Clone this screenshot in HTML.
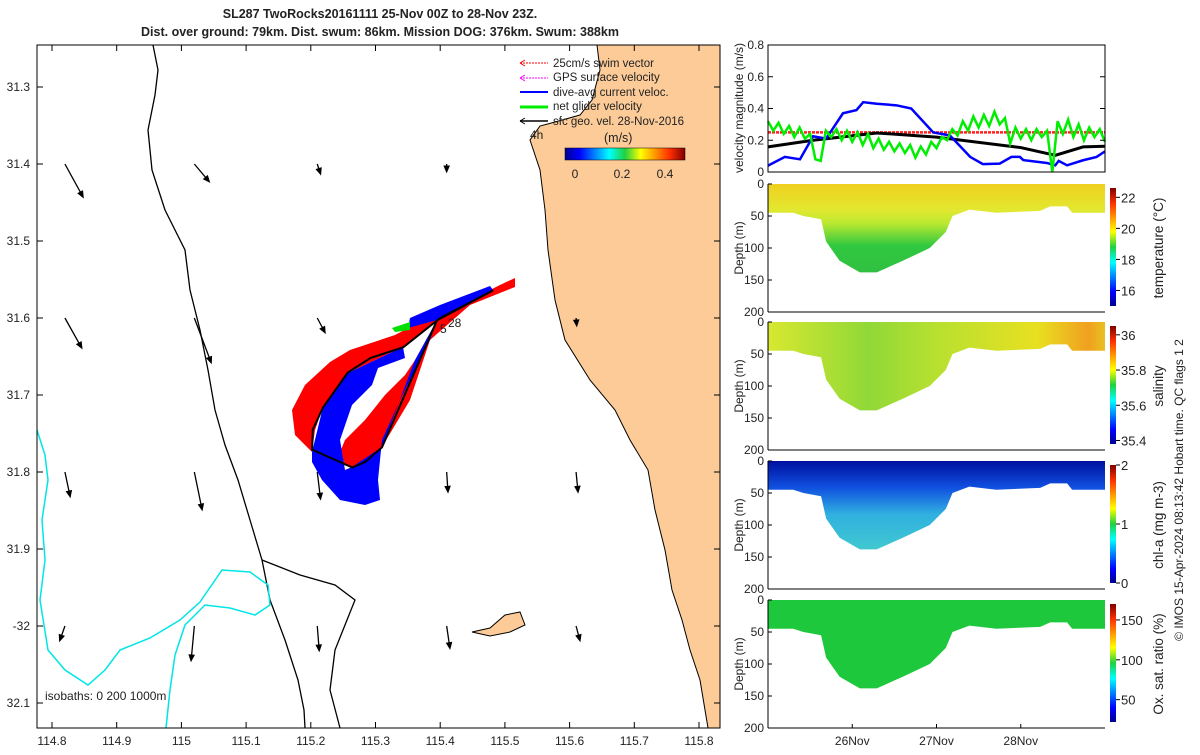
<!DOCTYPE html>
<html><head><meta charset="utf-8">
<style>
body{margin:0;background:#fff;}
svg text{font-family:"Liberation Sans",sans-serif;fill:#222;}
</style></head>
<body>
<svg id="s" width="1200" height="750" viewBox="0 0 1200 750" xmlns="http://www.w3.org/2000/svg">
<defs>
<linearGradient id="jet" x1="0" y1="1" x2="0" y2="0">
<stop offset="0" stop-color="#00008f"/><stop offset="0.12" stop-color="#0000ff"/><stop offset="0.37" stop-color="#00ffff"/><stop offset="0.5" stop-color="#20d040"/><stop offset="0.63" stop-color="#ffff00"/><stop offset="0.87" stop-color="#ff3000"/><stop offset="1" stop-color="#800000"/></linearGradient>
<linearGradient id="jeth" x1="0" y1="0" x2="1" y2="0">
<stop offset="0" stop-color="#00008f"/><stop offset="0.12" stop-color="#0000ff"/><stop offset="0.37" stop-color="#00ffff"/><stop offset="0.5" stop-color="#20d040"/><stop offset="0.63" stop-color="#ffff00"/><stop offset="0.87" stop-color="#ff3000"/><stop offset="1" stop-color="#800000"/></linearGradient>
<linearGradient id="gT" x1="0" y1="0" x2="0" y2="1"><stop offset="0" stop-color="#f0d020"/><stop offset="0.3" stop-color="#e2e830"/><stop offset="0.45" stop-color="#b8e830"/><stop offset="0.7" stop-color="#30c840"/><stop offset="1" stop-color="#30c040"/></linearGradient>
<linearGradient id="gS" x1="0" y1="0" x2="1" y2="0"><stop offset="0" stop-color="#d8e830"/><stop offset="0.3" stop-color="#90d838"/><stop offset="0.5" stop-color="#b8e030"/><stop offset="0.8" stop-color="#e8e020"/><stop offset="0.95" stop-color="#f0a020"/><stop offset="1" stop-color="#e8c020"/></linearGradient>
<linearGradient id="gC" x1="0" y1="0" x2="0" y2="1"><stop offset="0" stop-color="#0010a0"/><stop offset="0.3" stop-color="#1050e0"/><stop offset="0.6" stop-color="#30b0e0"/><stop offset="1" stop-color="#40c8d0"/></linearGradient>
</defs>

<text x="380" y="18" text-anchor="middle" font-size="12.5" font-weight="bold">SL287 TwoRocks20161111 25-Nov 00Z to 28-Nov 23Z.</text>
<text x="380" y="36" text-anchor="middle" font-size="12.5" font-weight="bold">Dist. over ground: 79km. Dist. swum: 86km. Mission DOG: 376km. Swum: 388km</text>

<g id="map">
<path fill="#fccb98" d="M597,45 L600,70 L592,100 L580,115 L555,122 L540,126 L530,140 L540,170 L545,210 L548,250 L555,300 L565,340 L590,380 L615,410 L630,440 L648,470 L655,510 L665,550 L672,590 L682,620 L690,650 L700,680 L705,710 L708,728 L720,728 L720,45 Z" stroke="#000" stroke-width="1"/>
<path fill="#fccb98" stroke="#000" stroke-width="1" d="M472,632 L490,628 L505,615 L520,612 L525,625 L510,632 L490,636 Z"/>
<polyline fill="none" stroke="#000" stroke-width="1.3" points="153,45 158,70 155,95 148,130 152,170 165,210 185,250 190,290 200,330 208,370 215,410 225,445 238,480 250,520 262,560 270,600 285,640 298,680 304,710 305,728"/>
<polyline fill="none" stroke="#000" stroke-width="1.3" points="262,560 300,575 335,585 355,600 345,625 335,650 330,690 340,728"/>
<polyline fill="none" stroke="#00e5e5" stroke-width="1.5" points="37,430 45,455 48,480 42,520 45,560 40,600 48,650 65,670 88,685 105,670 120,650 150,638 180,620 200,602 222,570 250,572 268,585 270,605 255,615 230,608 205,605 185,625 175,655 170,690 166,728"/>
<g id="arrows"></g>
<path fill="#ff0000" d="M515,278 L500,285 L440,315 L420,322 L395,335 L350,350 L330,362 L305,385 L292,410 L295,435 L312,452 L315,430 L323,407 L348,373 L403,347 L438,320 L430,338 L405,375 L385,395 L365,420 L345,440 L336,462 L352,468 L382,447 L410,400 L430,340 L470,305 L515,287 Z"/>
<path fill="#0000ff" d="M312,452 L323,407 L348,373 L403,347 L405,358 L378,368 L372,385 L352,405 L340,440 L345,470 L352,467 L382,447 L415,360 L437,320 L493,290 L490,286 L440,305 L410,318 L408,328 L437,320 L430,340 L400,400 L382,440 L378,480 L380,500 L365,505 L340,500 L322,480 L312,462 Z"/>
<polyline id="track" fill="none" stroke="#000" stroke-width="2"/>
<polygon points="392,328 410,322 410,330 395,332" fill="#00e000"/>
<text x="448" y="327" font-size="12">28</text>
<text x="440" y="333" font-size="12">5</text>
<text x="530" y="139" font-size="12">4h</text>
<g font-size="11.5">
<line x1="520" y1="63" x2="548" y2="63" stroke="#f00" stroke-dasharray="2,1"/><path d="M520,63 l5,-3 m-5,3 l5,3" stroke="#f00"/><text x="553" y="67">25cm/s swim vector</text>
<line x1="520" y1="78" x2="548" y2="78" stroke="#f0f" stroke-dasharray="2,1"/><path d="M520,78 l5,-3 m-5,3 l5,3" stroke="#f0f"/><text x="553" y="81">GPS surface velocity</text>
<line x1="520" y1="92" x2="548" y2="92" stroke="#00f" stroke-width="2"/><text x="553" y="96">dive-avg current veloc.</text>
<line x1="520" y1="107" x2="548" y2="107" stroke="#0e0" stroke-width="3"/><text x="553" y="110">net glider velocity</text>
<line x1="520" y1="121" x2="548" y2="121" stroke="#000" stroke-width="1.5"/><path d="M520,121 l5,-3 m-5,3 l5,3" stroke="#000"/><text x="553" y="125">sfc geo. vel. 28-Nov-2016</text>
<text x="604" y="142" font-size="12.5">(m/s)</text>
<rect x="565" y="148" width="120" height="12" fill="url(#jeth)" stroke="#000" stroke-width="0.5"/>
<text x="575" y="178" text-anchor="middle" font-size="12">0</text>
<text x="622" y="178" text-anchor="middle" font-size="12">0.2</text>
<text x="665" y="178" text-anchor="middle" font-size="12">0.4</text>
</g>
<text x="45" y="700" font-size="12">isobaths: 0   200  1000m</text>
<rect x="37" y="45" width="683" height="683" fill="none" stroke="#000" stroke-width="1"/>
<g id="mapticks" font-size="12"></g>
</g>

<g id="vel"></g>
<g id="sections"></g>

<text transform="translate(1183,490) rotate(-90)" text-anchor="middle" font-size="12">© IMOS 15-Apr-2024 08:13:42 Hobart time. QC flags 1  2</text>
</svg>
<script>
const NS='http://www.w3.org/2000/svg';
function mk(p,t,a){const e=document.createElementNS(NS,t);for(const k in a)e.setAttribute(k,a[k]);p.appendChild(e);return e;}
// ---- map data ----
const lonTicks=[114.8,114.9,115.0,115.1,115.2,115.3,115.4,115.5,115.6,115.7,115.8];
const lonLabels=['114.8','114.9','115','115.1','115.2','115.3','115.4','115.5','115.6','115.7','115.8'];
const latTicks=[31.3,31.4,31.5,31.6,31.7,31.8,31.9,32.0,32.1];
const latLabels=['31.3','31.4','31.5','31.6','31.7','31.8','31.9','-32','32.1'];
const trackLon=[115.482,115.400,115.343,115.292,115.257,115.219,115.203,115.202,115.264,115.284,115.310,115.395,115.482];
const trackLat=[31.564,31.600,31.638,31.652,31.671,31.716,31.745,31.771,31.794,31.787,31.768,31.603,31.564];
const arrowLon=[114.82,115.02,115.21,115.41,115.61];
const arrowLat=[31.4,31.6,31.8,32.0];
const arrowU=[[0.028,0.023,0.005,0,0],[0.026,0.026,0.012,0,0.001],[0.008,0.012,0.005,0.002,0.003],[-0.008,-0.005,0.003,0.005,0.006]];
const arrowV=[[0.043,0.023,0.013,0.010,0],[0.039,0.058,0.019,0,0.010],[0.032,0.049,0.035,0.026,0.026],[0.019,0.045,0.032,0.029,0.019]];
function X(lon){return 52+(lon-114.8)*647;}
function Y(lat){return 87+(lat-31.3)*770;}
const tr=document.getElementById('track');
tr.setAttribute('points',trackLon.map((l,i)=>X(l)+','+Y(trackLat[i])).join(' '));
const ag=document.getElementById('arrows');
arrowLat.forEach((la,r)=>arrowLon.forEach((lo,c)=>{
 const u=arrowU[r][c],v=arrowV[r][c]; if(u===0&&v===0)return;
 const x0=X(lo),y0=Y(la),x1=x0+u*647,y1=y0+v*770;
 const ang=Math.atan2(y1-y0,x1-x0);
 const a=mk(ag,'path',{d:`M${x0},${y0} L${x1},${y1} M${x1},${y1} L${x1-6*Math.cos(ang-0.4)},${y1-6*Math.sin(ang-0.4)} L${x1-6*Math.cos(ang+0.4)},${y1-6*Math.sin(ang+0.4)} Z`,stroke:'#000','stroke-width':1.3,fill:'#000'});
 
 
}));
const mt=document.getElementById('mapticks');
lonTicks.forEach((t,i)=>{const x=X(t);mk(mt,'line',{x1:x,y1:728,x2:x,y2:722,stroke:'#000'});mk(mt,'line',{x1:x,y1:45,x2:x,y2:51,stroke:'#000'});
 const tx=mk(mt,'text',{x:x,y:745,'text-anchor':'middle'});tx.textContent=lonLabels[i];
 
 });
latTicks.forEach((t,i)=>{const y=Y(t);mk(mt,'line',{x1:37,y1:y,x2:43,y2:y,stroke:'#000'});mk(mt,'line',{x1:720,y1:y,x2:714,y2:y,stroke:'#000'});
 const tx=mk(mt,'text',{x:30,y:y+4,'text-anchor':'end'});tx.textContent=latLabels[i];
 
 });

// ---- velocity panel ----
const blueT=[0,0.2,0.38,0.535,0.69,0.89,1.05,1.13,1.29,1.525,1.70,1.96,2.16,2.40,2.55,2.75,2.89,2.99,3.03,3.31,3.41,3.45,3.55,3.74,3.90,4.0];
const blueV=[0.04,0.095,0.08,0.225,0.21,0.37,0.39,0.44,0.43,0.42,0.40,0.25,0.23,0.095,0.05,0.053,0.095,0.095,0.075,0.057,0.042,0.07,0.042,0.074,0.095,0.13];
const blackT=[0,0.535,1.29,2.0,3.0,3.41,3.74,4.0];
const blackV=[0.158,0.2,0.246,0.22,0.154,0.105,0.158,0.162];
const swimV=0.25;
const greenV=[.32,.26,.31,.24,.29,.22,.28,.21,.24,.08,.07,.26,.22,.27,.20,.26,.19,.25,.17,.24,.15,.21,.14,.19,.13,.18,.12,.17,.09,.16,.11,.19,.15,.22,.20,.27,.23,.32,.26,.35,.28,.36,.29,.38,.30,.34,.18,.28,.21,.27,.20,.27,.22,.26,.00,.32,.24,.33,.22,.30,.20,.28,.22,.27,.19];
const dayTicks=[1,2,3];const dayLabels=['26Nov','27Nov','28Nov'];
const velTicks=[0,0.2,0.4,0.6,0.8];const velLabels=['0','0.2','0.4','0.6','0.8'];
const L=768,R=1105;
function TX(d){return L+d*(R-L)/4;}
function VY(v){return 172-v*(172-45)/0.8;}
const vg=document.getElementById('vel');
mk(vg,'line',{x1:L,x2:R,y1:VY(swimV),y2:VY(swimV),stroke:'#ff2020','stroke-width':2.5,'stroke-dasharray':'3,1'});
mk(vg,'polyline',{points:blackT.map((t,i)=>TX(t)+','+VY(blackV[i])).join(' '),fill:'none',stroke:'#000','stroke-width':3});
mk(vg,'polyline',{points:blueT.map((t,i)=>TX(t)+','+VY(blueV[i])).join(' '),fill:'none',stroke:'#0000ff','stroke-width':2.5});
mk(vg,'polyline',{points:greenV.map((v,i)=>TX(i*4/(greenV.length-1))+','+VY(v)).join(' '),fill:'none',stroke:'#00ee00','stroke-width':2.5});
mk(vg,'rect',{x:L,y:45,width:R-L,height:127,fill:'none',stroke:'#000'});
velTicks.forEach((t,i)=>{const y=VY(t);mk(vg,'line',{x1:L,x2:L+5,y1:y,y2:y,stroke:'#000'});mk(vg,'line',{x1:R,x2:R-5,y1:y,y2:y,stroke:'#000'});
 const tx=mk(vg,'text',{x:L-4,y:y+4,'text-anchor':'end','font-size':12});tx.textContent=velLabels[i];
 
 });
const vt=mk(vg,'text',{transform:'translate(743,108) rotate(-90)','text-anchor':'middle','font-size':12});vt.textContent='velocity magnitude (m/s)';



// ---- sections ----
const profT=[0,0.3,0.42,0.63,0.69,0.85,1.09,1.29,1.6,1.92,2.11,2.19,2.39,2.71,3.23,3.35,3.55,3.61,4.0];
const profD=[45,45,50,55,90,120,138,138,120,100,75,50,40,45,42,35,35,45,45];
const depthTicks=[0,50,100,150,200];
const panels=[
 {name:'temperature',top:184,fill:'url(#gT)',cb:['22','20','18','16'],cbv:[22,20,18,16],min:15,max:22.6,label:'temperature (°C)'},
 {name:'salinity',top:322,fill:'url(#gS)',cb:['36','35.8','35.6','35.4'],cbv:[36,35.8,35.6,35.4],min:35.38,max:36.05,label:'salinity'},
 {name:'chlorophyll',top:461,fill:'url(#gC)',cb:['2','1','0'],cbv:[2,1,0],min:0,max:2,label:'chl-a (mg m-3)'},
 {name:'oxygen',top:600,fill:'#1ec83c',cb:['150','100','50'],cbv:[150,100,50],min:22,max:170,label:'Ox. sat. ratio (%)'}];
const sg=document.getElementById('sections');
panels.forEach((p,pi)=>{
 const g=mk(sg,'g',{});
 
 
 const H=128;const DY=d=>p.top+d*H/200;
 let d='M'+TX(0)+','+DY(0);
 profT.forEach((t,i)=>{d+=' L'+TX(t)+','+DY(profD[i]);});
 d+=' L'+TX(4)+','+DY(0)+' Z';
 const sh=mk(g,'path',{d:d,fill:p.fill});
 
 
 mk(g,'line',{x1:L,x2:R,y1:p.top+H,y2:p.top+H,stroke:'#000'});
 mk(g,'line',{x1:L,x2:L,y1:p.top,y2:p.top+H,stroke:'#000'});
 depthTicks.forEach(t=>{const y=DY(t);mk(g,'line',{x1:L,x2:L+4,y1:y,y2:y,stroke:'#000'});
  const tx=mk(g,'text',{x:L-4,y:y+4,'text-anchor':'end','font-size':12});tx.textContent=t;});
 const yt=mk(g,'text',{transform:`translate(743,${p.top+64}) rotate(-90)`,'text-anchor':'middle','font-size':12});yt.textContent='Depth (m)';
 // colorbar
 const cy0=p.top+4,cy1=p.top+H-6;
 mk(g,'rect',{x:1110,y:cy0,width:6,height:cy1-cy0,fill:'url(#jet)'});
 const CB=v=>cy1-(v-p.min)/(p.max-p.min)*(cy1-cy0);
 p.cbv.forEach((v,i)=>{const y=CB(v);mk(g,'line',{x1:1116,x2:1120,y1:y,y2:y,stroke:'#000'});
  const tx=mk(g,'text',{x:1121,y:y+5,'font-size':13});tx.textContent=p.cb[i];});
 const ct=mk(g,'text',{transform:`translate(1163,${p.top+64}) rotate(-90)`,'text-anchor':'middle','font-size':13.5});ct.textContent=p.label;
 
 
 if(pi===3){dayTicks.forEach((t,i)=>{const x=TX(t);mk(g,'line',{x1:x,x2:x,y1:p.top+H,y2:p.top+H-4,stroke:'#000'});
  const tx=mk(g,'text',{x:x,y:745,'text-anchor':'middle','font-size':12});tx.textContent=dayLabels[i];
  
  });}
});
</script>
</body></html>
